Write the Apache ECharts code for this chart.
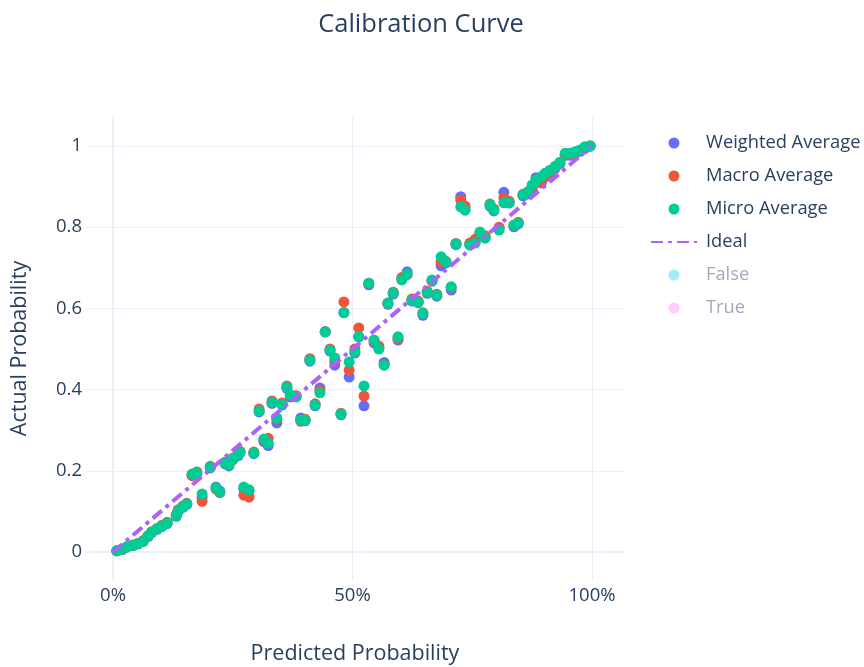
<!DOCTYPE html>
<html>
<head>
<meta charset="utf-8">
<title>Calibration Curve</title>
<script src="https://cdn.jsdelivr.net/npm/echarts@6/dist/echarts.min.js"></script>
<style>
  html, body { margin: 0; padding: 0; background: #ffffff; }
  #chart { width: 864px; height: 667px; }
</style>
</head>
<body>
<div id="chart"></div>
<script>
// Predicted probability of each bin (shared by all three averages)
var predicted = [
  0.008, 0.019, 0.029, 0.042, 0.052, 0.063, 0.073, 0.081, 0.092, 0.102,
  0.113, 0.132, 0.136, 0.146, 0.154, 0.165, 0.175, 0.186, 0.203, 0.215,
  0.223, 0.234, 0.242, 0.250, 0.261, 0.265, 0.273, 0.284, 0.294, 0.305,
  0.315, 0.324, 0.332, 0.342, 0.353, 0.363, 0.370, 0.382, 0.392, 0.401,
  0.411, 0.422, 0.432, 0.443, 0.453, 0.463, 0.476, 0.482, 0.493, 0.505,
  0.513, 0.524, 0.534, 0.545, 0.555, 0.566, 0.574, 0.585, 0.595, 0.603,
  0.614, 0.624, 0.637, 0.647, 0.656, 0.666, 0.676, 0.685, 0.695, 0.706,
  0.716, 0.726, 0.735, 0.745, 0.756, 0.766, 0.777, 0.787, 0.795, 0.806,
  0.816, 0.827, 0.837, 0.846, 0.856, 0.866, 0.875, 0.883, 0.894, 0.902,
  0.912, 0.923, 0.933, 0.944, 0.954, 0.965, 0.975, 0.985, 0.996
];

// Observed (actual) probability per bin
var weightedActual = [
  0.003, 0.006, 0.012, 0.016, 0.020, 0.026, 0.038, 0.048, 0.056, 0.063,
  0.070, 0.088, 0.100, 0.110, 0.117, 0.190, 0.193, 0.135, 0.207, 0.160,
  0.150, 0.217, 0.212, 0.227, 0.237, 0.244, 0.155, 0.150, 0.242, 0.345,
  0.272, 0.262, 0.366, 0.318, 0.362, 0.403, 0.382, 0.383, 0.330, 0.323,
  0.470, 0.360, 0.404, 0.543, 0.495, 0.460, 0.338, 0.590, 0.431, 0.490,
  0.530, 0.360, 0.658, 0.515, 0.503, 0.467, 0.610, 0.635, 0.522, 0.672,
  0.690, 0.618, 0.614, 0.583, 0.637, 0.667, 0.630, 0.705, 0.712, 0.645,
  0.757, 0.875, 0.846, 0.757, 0.766, 0.781, 0.775, 0.852, 0.840, 0.796,
  0.886, 0.860, 0.801, 0.808, 0.877, 0.882, 0.895, 0.922, 0.909, 0.924,
  0.934, 0.945, 0.957, 0.977, 0.977, 0.982, 0.987, 0.994, 1.000
];

var macroActual = [
  0.003, 0.007, 0.013, 0.017, 0.021, 0.028, 0.040, 0.050, 0.058, 0.066,
  0.073, 0.092, 0.104, 0.113, 0.120, 0.188, 0.197, 0.125, 0.211, 0.155,
  0.146, 0.221, 0.216, 0.231, 0.241, 0.248, 0.140, 0.135, 0.246, 0.352,
  0.276, 0.280, 0.372, 0.327, 0.367, 0.409, 0.387, 0.385, 0.322, 0.327,
  0.476, 0.365, 0.398, 0.542, 0.500, 0.470, 0.342, 0.616, 0.448, 0.500,
  0.552, 0.384, 0.662, 0.520, 0.507, 0.461, 0.613, 0.640, 0.526, 0.676,
  0.683, 0.623, 0.618, 0.589, 0.642, 0.668, 0.635, 0.715, 0.716, 0.652,
  0.760, 0.867, 0.852, 0.761, 0.770, 0.785, 0.779, 0.857, 0.845, 0.800,
  0.872, 0.864, 0.805, 0.812, 0.881, 0.886, 0.899, 0.913, 0.912, 0.927,
  0.937, 0.947, 0.959, 0.978, 0.979, 0.984, 0.989, 0.995, 1.000
];

var microActual = [
  0.003, 0.007, 0.012, 0.017, 0.020, 0.027, 0.039, 0.049, 0.057, 0.064,
  0.071, 0.089, 0.101, 0.111, 0.118, 0.192, 0.195, 0.143, 0.209, 0.158,
  0.148, 0.219, 0.214, 0.229, 0.239, 0.246, 0.160, 0.153, 0.244, 0.347,
  0.278, 0.268, 0.369, 0.330, 0.364, 0.406, 0.387, 0.382, 0.325, 0.325,
  0.473, 0.362, 0.392, 0.542, 0.497, 0.478, 0.340, 0.589, 0.468, 0.493,
  0.530, 0.409, 0.662, 0.522, 0.500, 0.460, 0.613, 0.638, 0.530, 0.670,
  0.685, 0.620, 0.616, 0.588, 0.640, 0.670, 0.633, 0.727, 0.714, 0.653,
  0.759, 0.850, 0.842, 0.756, 0.761, 0.788, 0.773, 0.855, 0.842, 0.793,
  0.860, 0.860, 0.805, 0.810, 0.879, 0.887, 0.904, 0.916, 0.924, 0.933,
  0.940, 0.950, 0.960, 0.982, 0.982, 0.986, 0.990, 0.998, 1.000
];

// Perfect calibration reference
var idealX = [0, 1];
var idealY = [0, 1];

var xTicks = [0, 0.5, 1];
var yTicks = [0, 0.2, 0.4, 0.6, 0.8, 1];

var TEXT = '#2a3f5f';
var GRID = '#EBF0F8';
var FONT = '"Open Sans", "Noto Sans", sans-serif';

function pairs(xs, ys) {
  return xs.map(function (x, i) { return [x, ys[i]]; });
}

var xRange = { min: -0.0564, max: 1.0668 };
var yRange = { min: -0.069, max: 1.0714 };

var chart = echarts.init(document.getElementById('chart'), null, { renderer: 'canvas' });

var option = {
  backgroundColor: '#ffffff',
  animation: false,
  textStyle: { fontFamily: FONT },
  title: {
    text: 'Calibration Curve',
    left: 416,
    top: 7,
    textAlign: 'center',
    textStyle: { color: TEXT, fontSize: 25.5, fontWeight: 'normal', fontFamily: FONT }
  },
  grid: { left: 86, right: 240, top: 117, bottom: 87, containLabel: false, outerBoundsMode: 'none' },
  legend: {
    orient: 'vertical',
    left: 645,
    top: 127,
    itemWidth: 46,
    itemHeight: 11,
    itemGap: 11,
    textStyle: { color: TEXT, fontSize: 18.3, fontFamily: FONT, lineHeight: 22, padding: [0, 0, 0, 4] },
    data: [
      { name: 'Weighted Average', icon: 'circle' },
      { name: 'Macro Average', icon: 'circle' },
      { name: 'Micro Average', icon: 'circle' },
      { name: 'Ideal', itemStyle: { opacity: 0 } },
      { name: 'False', icon: 'circle', itemStyle: { color: 'rgba(25,211,243,0.5)' }, textStyle: { color: 'rgba(42,63,95,0.45)' } },
      { name: 'True', icon: 'circle', itemStyle: { color: 'rgba(255,151,255,0.6)' }, textStyle: { color: 'rgba(42,63,95,0.45)' } }
    ]
  },
  xAxis: [
    {
      type: 'value',
      min: xRange.min,
      max: xRange.max,
      axisLine: { show: false },
      axisTick: { show: false, customValues: xTicks },
      axisLabel: {
        customValues: xTicks,
        formatter: function (v) { return Math.round(v * 100) + '%'; },
        color: TEXT, fontSize: 18.5, fontFamily: FONT, margin: 6
      },
      splitLine: { show: true, lineStyle: { color: GRID, width: 1 } },
      name: 'Predicted Probability',
      nameLocation: 'middle',
      nameGap: 63,
      nameTextStyle: { color: TEXT, fontSize: 21.5, fontFamily: FONT }
    },
    {
      type: 'value',
      position: 'top',
      min: xRange.min,
      max: xRange.max,
      axisLine: { show: false },
      axisTick: { show: false, customValues: [0] },
      axisLabel: { show: false },
      splitLine: { show: true, lineStyle: { color: GRID, width: 2 } }
    }
  ],
  yAxis: [
    {
      type: 'value',
      min: yRange.min,
      max: yRange.max,
      axisLine: { show: false },
      axisTick: { show: false, customValues: yTicks },
      axisLabel: {
        customValues: yTicks,
        formatter: function (v) { return String(Math.round(v * 10) / 10); },
        color: TEXT, fontSize: 18.5, fontFamily: FONT, margin: 4
      },
      splitLine: { show: true, lineStyle: { color: GRID, width: 1 } },
      name: 'Actual Probability',
      nameLocation: 'middle',
      nameGap: 55,
      nameTextStyle: { color: TEXT, fontSize: 21.5, fontFamily: FONT }
    },
    {
      type: 'value',
      position: 'right',
      min: yRange.min,
      max: yRange.max,
      axisLine: { show: false },
      axisTick: { show: false, customValues: [0] },
      axisLabel: { show: false },
      splitLine: { show: true, lineStyle: { color: GRID, width: 2 } }
    }
  ],
  series: [
    {
      name: 'Weighted Average', type: 'scatter', symbolSize: 11,
      itemStyle: { color: '#636EFA', opacity: 1 }, data: pairs(predicted, weightedActual), z: 2
    },
    {
      name: 'Macro Average', type: 'scatter', symbolSize: 11,
      itemStyle: { color: '#EF553B', opacity: 1 }, data: pairs(predicted, macroActual), z: 2
    },
    {
      name: 'Micro Average', type: 'scatter', symbolSize: 11,
      itemStyle: { color: '#00CC96', opacity: 1 }, data: pairs(predicted, microActual), z: 2
    },
    {
      name: 'Ideal', type: 'line', symbol: 'none', showSymbol: false,
      lineStyle: { color: '#AB63FA', width: 4, type: [12, 5, 4, 5] },
      itemStyle: { color: '#AB63FA' },
      data: pairs(idealX, idealY), z: 3
    },
    { name: 'False', type: 'scatter', itemStyle: { color: 'rgba(25,211,243,0.5)' }, data: [] },
    { name: 'True', type: 'scatter', itemStyle: { color: 'rgba(255,151,255,0.6)' }, data: [] }
  ]
};

chart.setOption(option);
</script>
</body>
</html>
